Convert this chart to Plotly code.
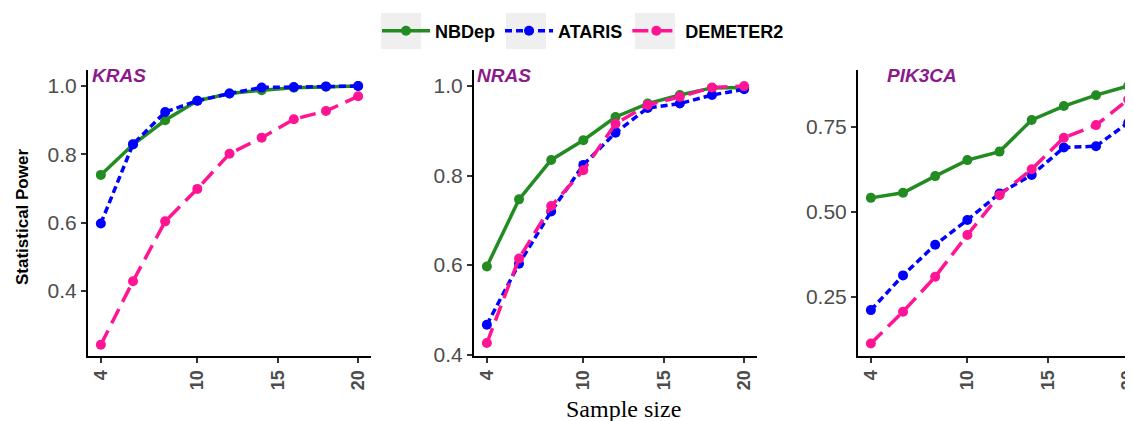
import plotly.graph_objects as go

sample_size = [4, 6, 8, 10, 12, 14, 16, 18, 20]

kras_nbdep = [0.74, 0.829, 0.90, 0.957, 0.978, 0.988, 0.995, 0.998, 1.0]
kras_ataris = [0.598, 0.83, 0.924, 0.957, 0.978, 0.996, 0.997, 0.999, 1.0]
kras_demeter2 = [0.243, 0.429, 0.604, 0.699, 0.802, 0.849, 0.903, 0.927, 0.97]

nras_nbdep = [0.597, 0.747, 0.835, 0.879, 0.931, 0.961, 0.98, 0.996, 0.997]
nras_ataris = [0.467, 0.603, 0.72, 0.824, 0.896, 0.951, 0.961, 0.98, 0.993]
nras_demeter2 = [0.426, 0.615, 0.732, 0.812, 0.916, 0.958, 0.976, 0.997, 1.0]

pik3ca_nbdep = [0.541, 0.556, 0.605, 0.652, 0.677, 0.77, 0.811, 0.843, 0.87]
pik3ca_ataris = [0.211, 0.313, 0.403, 0.476, 0.554, 0.608, 0.689, 0.693, 0.762]
pik3ca_demeter2 = [0.113, 0.206, 0.309, 0.432, 0.549, 0.625, 0.718, 0.755, 0.83]

genes = ["KRAS", "NRAS", "PIK3CA"]
methods = ["NBDep", "ATARIS", "DEMETER2"]
colors = {"NBDep": "#228B22", "ATARIS": "#0000FF", "DEMETER2": "#FF1493"}
dashes = {"NBDep": "solid", "ATARIS": "7px,4px", "DEMETER2": "16px,8px"}
x_ticks = [4, 10, 15, 20]

data = {
    "KRAS": {"NBDep": kras_nbdep, "ATARIS": kras_ataris, "DEMETER2": kras_demeter2},
    "NRAS": {"NBDep": nras_nbdep, "ATARIS": nras_ataris, "DEMETER2": nras_demeter2},
    "PIK3CA": {"NBDep": pik3ca_nbdep, "ATARIS": pik3ca_ataris, "DEMETER2": pik3ca_demeter2},
}

# page body has an 8px default margin; work in window pixels and shift
OFF = 8
W, H = 1133 - OFF, 421 - OFF
TOP, BOT = 70 - OFF, 356 - OFF
PH = BOT - TOP

def px_x(p):
    return (p - OFF) / W

def px_y(p):
    return 1 - ((p - OFF) - TOP) / PH

domains_px = [(88, 371), (474, 757), (858, 1133)]
y_ranges = [[0.21, 1.047], [0.397, 1.036], [0.076, 0.917]]
x_ranges = [[3.2, 20.8], [3.2, 20.8], [3.2, 20.3]]
y_ticks = [[0.4, 0.6, 0.8, 1.0], [0.4, 0.6, 0.8, 1.0], [0.25, 0.50, 0.75]]
y_fmt = [".1f", ".1f", ".2f"]

fig = go.Figure()
for i, g in enumerate(genes):
    xa = "x" if i == 0 else f"x{i+1}"
    ya = "y" if i == 0 else f"y{i+1}"
    for m in methods:
        fig.add_trace(go.Scatter(
            x=sample_size, y=data[g][m], mode="lines+markers", name=m,
            legendgroup=m, showlegend=(i == 0), xaxis=xa, yaxis=ya,
            line=dict(color=colors[m], width=3.5, dash=dashes[m]),
            marker=dict(color=colors[m], size=10),
        ))

layout = dict(
    width=W, height=H, plot_bgcolor="white", paper_bgcolor="white",
    margin=dict(l=0, r=0, t=TOP, b=H - BOT, autoexpand=False),
    font=dict(family="Liberation Sans, Arial, sans-serif"),
    legend=dict(orientation="h", x=px_x(377), xanchor="left", y=1 - (31 - OFF) / H,
                yanchor="middle", yref="container",
                font=dict(size=18, color="black", family="Liberation Sans", weight="bold"),
                itemwidth=48, bgcolor="rgba(0,0,0,0)"),
    showlegend=True,
)
for i in range(3):
    sx = "" if i == 0 else str(i + 1)
    d0, d1 = domains_px[i]
    layout[f"xaxis{sx}"] = dict(
        domain=[px_x(d0), min(px_x(d1), 1.0)], range=x_ranges[i], anchor="y" + sx,
        tickvals=x_ticks, tickangle=-90, showgrid=False, zeroline=False, automargin=False,
        showline=True, linecolor="black", linewidth=2, ticks="outside",
        ticklen=5, tickwidth=2, tickcolor="#333333", ticklabeloverflow="allow",
        tickfont=dict(size=18, color="#4D4D4D", family="Liberation Sans", weight="bold"),
    )
    layout[f"yaxis{sx}"] = dict(
        domain=[0, 1], range=y_ranges[i], anchor="x" + sx, automargin=False,
        tickvals=y_ticks[i], tickformat=y_fmt[i], showgrid=False, zeroline=False,
        showline=True, linecolor="black", linewidth=2, ticks="outside",
        ticklen=5, tickwidth=2, tickcolor="#333333",
        tickfont=dict(size=21, color="#4D4D4D", family="Liberation Sans"),
    )
fig.update_layout(**layout)

# grey legend key backgrounds
for c in [401, 526, 655]:
    fig.add_shape(type="rect", xref="paper", yref="paper", layer="below",
                  x0=px_x(c - 20), x1=px_x(c + 20), y0=px_y(49), y1=px_y(13),
                  fillcolor="#EFEFEF", line=dict(width=0))

title_pos = [90, 475, 885]
for i, g in enumerate(genes):
    fig.add_annotation(text=g, xref="paper", yref="paper", x=px_x(title_pos[i]), xanchor="left",
                       y=px_y(76), yanchor="middle", showarrow=False,
                       font=dict(size=19, color="#8B1A8B", family="Liberation Sans",
                                 weight="bold", style="italic"))

fig.add_annotation(text="Statistical Power", xref="paper", yref="paper", x=px_x(22), y=px_y(217),
                   textangle=-90, showarrow=False, xanchor="center", yanchor="middle",
                   font=dict(size=17, color="black", family="Liberation Sans", weight="bold"))
fig.add_annotation(text="Sample size", xref="paper", yref="paper", x=px_x(623),
                   y=px_y(409), xanchor="center", yanchor="middle", showarrow=False,
                   font=dict(size=24, color="black", family="Liberation Serif"))

fig.write_html("out.html")
